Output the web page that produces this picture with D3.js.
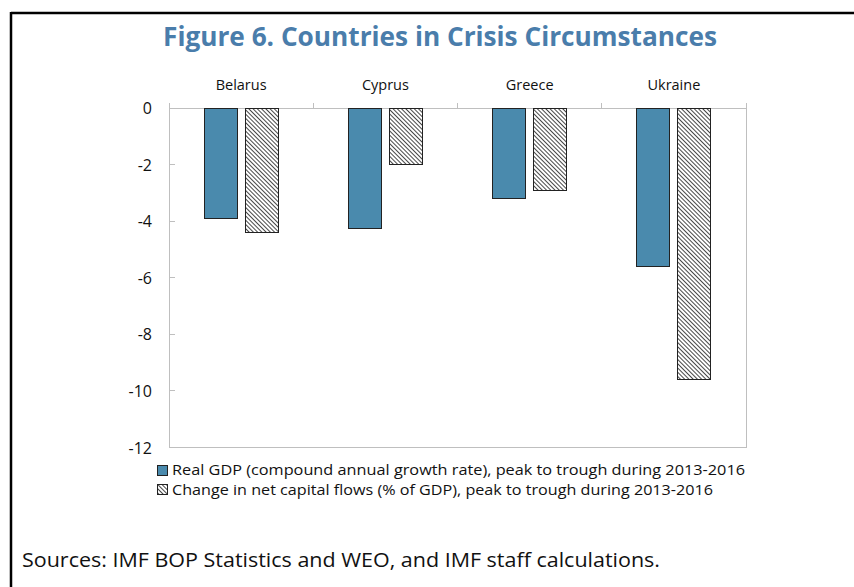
<!DOCTYPE html>
<html lang="en">
<head>
    <meta charset="UTF-8">
    <title>Figure 6. Countries in Crisis Circumstances</title>
    <style>
        body {
          margin: 0;
          background: #fff;
          font-family: "Open Sans", "Noto Sans", sans-serif;
        }
        .frame line {
          stroke: #000;
          stroke-width: 2.5px;
        }
        .plotbox line {
          stroke: #bfbfbf;
          stroke-width: 1px;
          shape-rendering: crispEdges;
        }
        .tick-label, .cat-label, .legend text {
          fill: #111;
        }
        .gdp {
          fill: #4a8aad;
        }
        .cap {
          fill: url(#hatch);
        }
        .bar {
          stroke: #222;
          stroke-width: 1px;
          shape-rendering: crispEdges;
        }
    </style>
</head>
<body>
    <script src="https://d3js.org/d3.v7.min.js"></script>
    <script>
        // data
        var countries = ["Belarus", "Cyprus", "Greece", "Ukraine"];
        var gdpValues = [-3.9, -4.25, -3.2, -5.6];
        var capitalValues = [-4.4, -2.0, -2.9, -9.6];
        var yTicks = [0, -2, -4, -6, -8, -10, -12];
        var seriesKeys = ["gdp", "cap"];
        var seriesLabels = [
          "Real GDP (compound annual growth rate), peak to trough during 2013-2016",
          "Change in net capital flows (% of GDP), peak to trough during 2013-2016"
        ];

        var width = 854,
            height = 587,
            plotLeft = 169,
            plotRight = 746,
            plotTop = 108,
            plotBottom = 447.5;

        var svg = d3.select("body").append("svg")
            .attr("width", width)
            .attr("height", height);

        var defs = svg.append("defs");
        var hatch = defs.append("pattern")
            .attr("id", "hatch")
            .attr("patternUnits", "userSpaceOnUse")
            .attr("width", 3)
            .attr("height", 3)
            .attr("patternTransform", "rotate(-45)");
        hatch.append("rect")
            .attr("width", 3).attr("height", 3).attr("fill", "#fff");
        hatch.append("line")
            .attr("x1", 0.5).attr("y1", 0).attr("x2", 0.5).attr("y2", 3)
            .attr("stroke", "#333").attr("stroke-width", 0.9);

        // outer frame (left + top only)
        var frame = svg.append("g").attr("class", "frame");
        frame.append("line").attr("x1", 11).attr("y1", 13).attr("x2", width).attr("y2", 13);
        frame.append("line").attr("x1", 11).attr("y1", 12).attr("x2", 11).attr("y2", height);

        svg.append("text")
            .attr("x", 440)
            .attr("y", 46)
            .attr("text-anchor", "middle")
            .attr("font-size", 26)
            .attr("font-weight", "bold")
            .attr("fill", "#4a7dab")
            .attr("textLength", 554)
            .attr("lengthAdjust", "spacingAndGlyphs")
            .text("Figure 6. Countries in Crisis Circumstances");

        var y = d3.scaleLinear().domain([-12, 0]).range([plotBottom, plotTop]);
        var x0 = d3.scaleBand().domain(countries).range([plotLeft, plotRight]);
        var x1 = d3.scaleBand().domain(seriesKeys)
            .range([0, x0.bandwidth()])
            .paddingInner(0.2)
            .paddingOuter(0.855);

        // plot box
        var box = svg.append("g").attr("class", "plotbox");
        box.append("line").attr("x1", plotLeft).attr("x2", plotRight).attr("y1", y(0)).attr("y2", y(0));
        box.append("line").attr("x1", plotLeft).attr("x2", plotRight).attr("y1", y(-12)).attr("y2", y(-12));
        box.append("line").attr("x1", plotLeft).attr("x2", plotLeft).attr("y1", y(0) - 5).attr("y2", y(-12));
        box.append("line").attr("x1", plotRight).attr("x2", plotRight).attr("y1", y(0) - 5).attr("y2", y(-12));

        // category separators above the zero line
        box.selectAll(".sep")
            .data(countries.slice(1))
          .enter().append("line")
            .attr("x1", function(d) { return x0(d); })
            .attr("x2", function(d) { return x0(d); })
            .attr("y1", y(0) - 5)
            .attr("y2", y(0));

        // y ticks pointing inward
        box.selectAll(".ytick")
            .data(yTicks.slice(1, -1))
          .enter().append("line")
            .attr("x1", plotLeft)
            .attr("x2", plotLeft + 6)
            .attr("y1", function(d) { return y(d); })
            .attr("y2", function(d) { return y(d); });

        svg.append("g").selectAll("text")
            .data(yTicks)
          .enter().append("text")
            .attr("class", "tick-label")
            .attr("x", 152)
            .attr("y", function(d) { return y(d) + 6; })
            .attr("text-anchor", "end")
            .attr("font-size", 16)
            .text(function(d) { return d; });

        svg.append("g").selectAll("text")
            .data(countries)
          .enter().append("text")
            .attr("class", "cat-label")
            .attr("x", function(d) { return x0(d) + x0.bandwidth() / 2; })
            .attr("y", 90)
            .attr("text-anchor", "middle")
            .attr("font-size", 14.5)
            .text(function(d) { return d; });

        var rows = countries.map(function(c, i) {
          return {country: c, values: [
            {key: "gdp", value: gdpValues[i]},
            {key: "cap", value: capitalValues[i]}
          ]};
        });

        svg.append("g").selectAll("g")
            .data(rows)
          .enter().append("g")
            .attr("transform", function(d) { return "translate(" + x0(d.country) + ",0)"; })
          .selectAll("rect")
            .data(function(d) { return d.values; })
          .enter().append("rect")
            .attr("class", function(d) { return "bar " + d.key; })
            .attr("x", function(d) { return x1(d.key); })
            .attr("width", x1.bandwidth())
            .attr("y", y(0))
            .attr("height", function(d) { return y(d.value) - y(0); });

        // legend
        var legend = svg.append("g").attr("class", "legend");
        var lg = legend.selectAll("g")
            .data(seriesKeys)
          .enter().append("g")
            .attr("transform", function(d, i) { return "translate(157," + (465 + i * 19.5) + ")"; });
        lg.append("rect")
            .attr("class", function(d) { return "bar " + d; })
            .attr("width", 10)
            .attr("height", 10);
        lg.append("text")
            .attr("x", 15)
            .attr("y", 10)
            .attr("font-size", 14.5)
            .attr("textLength", function(d, i) { return i === 0 ? 573 : 541; })
            .attr("lengthAdjust", "spacingAndGlyphs")
            .text(function(d, i) { return seriesLabels[i]; });

        svg.append("text")
            .attr("x", 22)
            .attr("y", 567)
            .attr("font-size", 20)
            .attr("fill", "#111")
            .attr("textLength", 638)
            .attr("lengthAdjust", "spacingAndGlyphs")
            .text("Sources: IMF BOP Statistics and WEO, and IMF staff calculations.");
    </script>
</body>
</html>
